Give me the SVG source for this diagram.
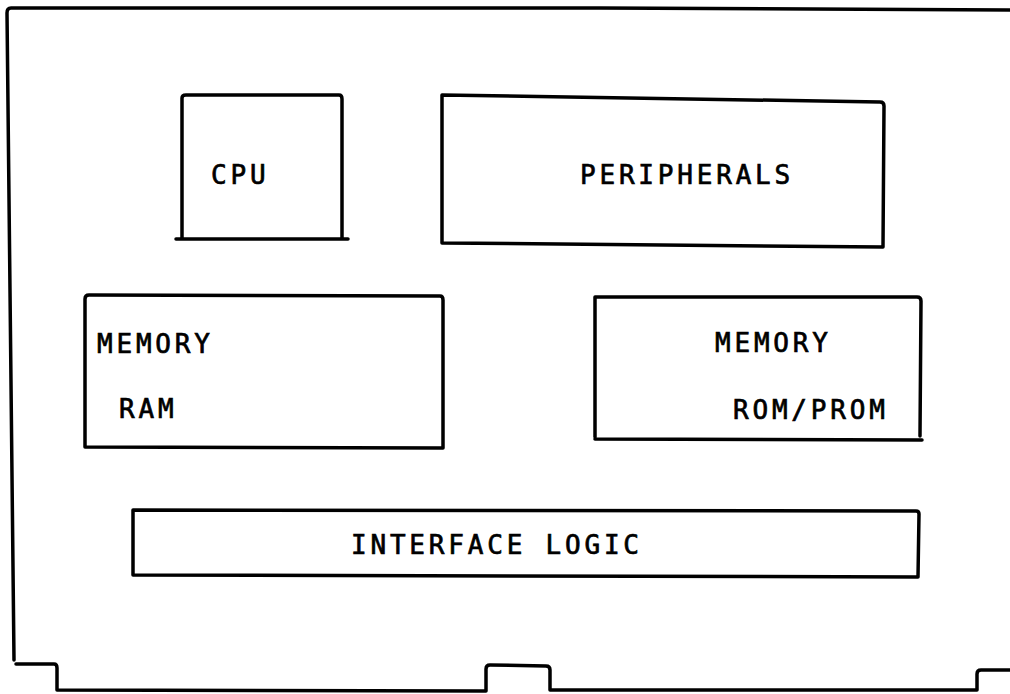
<svg xmlns="http://www.w3.org/2000/svg" width="1010" height="694" viewBox="0 0 1010 694">
<style>
.ln{fill:none;stroke:#000;stroke-width:3.5;stroke-linejoin:round;stroke-linecap:round}
.t{font-family:"DejaVu Sans Mono","Liberation Mono",monospace;font-size:26px;letter-spacing:3.8px;fill:#000;stroke:#000;stroke-width:0.7}
</style>
<rect width="1010" height="694" fill="#fff"/>
<g id="board">
<path class="ln" d="M1010,10 L600,8 L11,8 Q7,8 7,13 L14,660 M16,664 L54,664 Q57,664 57,668 L57,690 L486,691 L486,669 Q486,665 490,665 L546,666 Q550,666 550,670 L550,690 L977,690 L977,674 Q977,670 981,670 L1010,670"/>
</g>
<g id="cpu">
<path class="ln" d="M182,238 L182,98 Q182,95 186,95 L339,95 Q342,95 342,99 L342,238 M176,239 L348,239"/>
<text class="t" x="211" y="184">CPU</text>
</g>
<g id="peripherals">
<path class="ln" d="M442,243 L442,95 L880,102 Q884,102 884,106 L883,247 L442,243"/>
<text class="t" x="580" y="184">PERIPHERALS</text>
</g>
<g id="ram">
<path class="ln" d="M85,447 L85,299 Q85,295 89,295 L440,296 Q443,296 443,300 L443,448 L85,447"/>
<text class="t" x="97" y="353">MEMORY</text>
<text class="t" x="119" y="418">RAM</text>
</g>
<g id="rom">
<path class="ln" d="M595,437 L595,297 L917,297 Q921,297 921,301 L920,436 M595,439 L922,440"/>
<text class="t" x="715" y="352">MEMORY</text>
<text class="t" x="733" y="419">ROM/PROM</text>
</g>
<g id="interface">
<path class="ln" d="M133,575 L133,510 L916,511 Q919,511 919,514 L918,577 L133,575"/>
<text class="t" x="351" y="554">INTERFACE LOGIC</text>
</g>
<g id="connectors"></g>
</svg>
